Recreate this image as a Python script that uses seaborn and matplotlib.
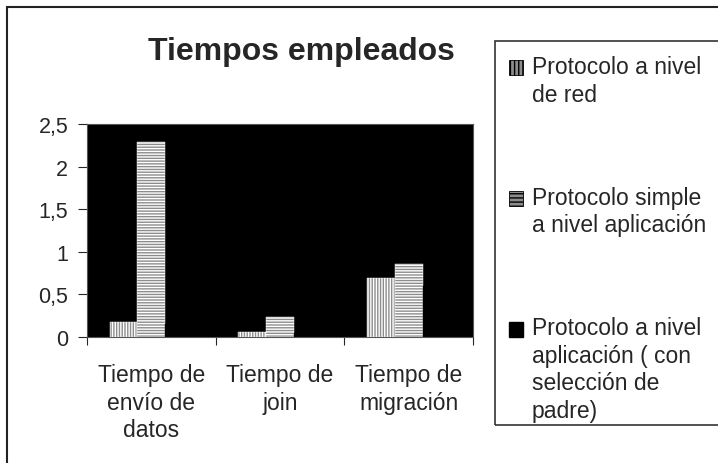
import numpy as np
import pandas as pd
import matplotlib
matplotlib.use("Agg")
import matplotlib.pyplot as plt
import seaborn as sns
from matplotlib.patches import Rectangle, Patch
from matplotlib.legend_handler import HandlerPatch

categories = ["Tiempo de\nenvío de\ndatos", "Tiempo de\njoin", "Tiempo de\nmigración"]
series = ["Protocolo a nivel\nde red",
          "Protocolo simple\na nivel aplicación",
          "Protocolo a nivel\naplicación ( con\nselección de\npadre)"]
red = [0.18, 0.06, 0.69]
simple = [2.29, 0.24, 0.86]
padre = [0.15, 0.05, 0.60]  # barras negras sobre fondo negro, no se ven
yticks = [0, 0.5, 1, 1.5, 2, 2.5]
ytick_labels = ["0", "0,5", "1", "1,5", "2", "2,5"]

df = pd.DataFrame({
    "cat": categories * 3,
    "serie": [series[0]] * 3 + [series[1]] * 3 + [series[2]] * 3,
    "valor": red + simple + padre,
})

sns.set_style("white")
plt.rcParams["font.family"] = ["Liberation Sans", "DejaVu Sans"]
plt.rcParams["hatch.linewidth"] = 1.0

W, H = 718, 464
fig = plt.figure(figsize=(W / 100, H / 100), dpi=100)
ax = fig.add_axes([87 / W, 1 - 338 / H, 386 / W, 213 / H])
ax.set_facecolor("black")

sns.barplot(data=df, x="cat", y="valor", hue="serie", hue_order=series,
            order=categories, palette=["#8c8c8c", "#8c8c8c", "black"],
            width=0.65, gap=0, legend=False, ax=ax)

hatches = ["||||||", "------", None]
edges = ["white", "white", "black"]
for cont, h, ec in zip(ax.containers, hatches, edges):
    for bar in cont:
        if h:
            bar.set_hatch(h)
        bar.set_edgecolor(ec)
        bar.set_linewidth(0.3)

ax.set_ylim(0, 2.5)
ax.set_xlim(-0.5, 2.5)
ax.set_yticks(yticks)
ax.set_yticklabels(ytick_labels, fontsize=15.5)
ax.set_xticks(range(3))
ax.set_xticklabels(categories, fontsize=16.5, linespacing=1.25)
ax.set_xticks([-0.5, 0.5, 1.5, 2.5], minor=True)
ax.tick_params(axis="x", which="major", length=0, pad=19)
ax.tick_params(axis="x", which="minor", length=6, width=0.8, direction="out", bottom=True)
ax.tick_params(axis="y", length=6.5, width=0.8, direction="out", left=True, pad=7)
ax.set_xlabel("")
ax.set_ylabel("")
for s in ax.spines.values():
    s.set_color("#555555")
    s.set_linewidth(0.8)

fig.text(301 / W, 1 - 52 / H, "Tiempos empleados", fontsize=23,
         fontweight="bold", ha="center", va="center")

# marco del grafico y de la leyenda (cortados a la derecha y abajo)
fig.patches.append(Rectangle((7 / W, -0.1), 1.2, 1.1 - 8 / H, transform=fig.transFigure,
                             fill=False, edgecolor="#222222", linewidth=1.5))
fig.patches.append(Rectangle((495 / W, 1 - 426 / H), 1.0, (426 - 42) / H,
                             transform=fig.transFigure, fill=False,
                             edgecolor="#333333", linewidth=1.2))

line_pt = 27 * 72 / 100


def top_handler(nlines):
    def make(legend, orig_handle, xdescent, ydescent, width, height, fontsize):
        shift = (nlines - 1) / 2 * line_pt
        return Rectangle((-xdescent, -ydescent + shift), width, height)
    return HandlerPatch(patch_func=make)


handles = [Patch(facecolor="#8c8c8c", edgecolor="black", hatch="||||", linewidth=0.6),
           Patch(facecolor="#8c8c8c", edgecolor="black", hatch="----", linewidth=0.6),
           Patch(facecolor="black", edgecolor="black")]
hmap = {hd: top_handler(lab.count("\n") + 1) for hd, lab in zip(handles, series)}
leg = fig.legend(handles, series, loc="upper left", handler_map=hmap,
                 bbox_to_anchor=(509 / W, 1 - 56 / H), fontsize=16.5,
                 frameon=False, handlelength=0.6, handleheight=0.6,
                 handletextpad=0.4, labelspacing=3.5, borderpad=0,
                 borderaxespad=0)
for t in leg.get_texts():
    t.set_linespacing(1.25)

fig.savefig("out.png", dpi=100)
